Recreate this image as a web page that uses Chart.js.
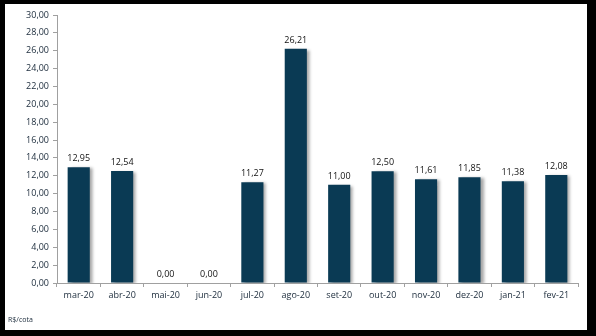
<!DOCTYPE html>
<html>
<head>
<meta charset="utf-8">
<script src="https://cdn.jsdelivr.net/npm/chart.js@4"></script>
<style>
html,body{margin:0;padding:0;background:#000;width:596px;height:336px;overflow:hidden;}
#box{position:absolute;left:5px;top:4px;width:582px;height:326px;background:#fff;}
#unit{position:absolute;left:3px;top:311px;font:7px "Open Sans",sans-serif;color:#1a2a3a;}
</style>
</head>
<body>
<div id="box">
<canvas id="chart" width="582" height="326"></canvas>
<div id="unit">R$/cota</div>
</div>
<script>
const months = ["mar-20","abr-20","mai-20","jun-20","jul-20","ago-20","set-20","out-20","nov-20","dez-20","jan-21","fev-21"];
const values = [12.95,12.54,0,0,11.27,26.21,11.00,12.50,11.61,11.85,11.38,12.08];
const yMin = 0, yMax = 30, yStep = 2;

const fmt = v => v.toFixed(2).replace(".", ",");

// sombra nas barras
const shadow = {
  id:"shadow",
  beforeDatasetDraw(chart){
    const c = chart.ctx;
    c.save();
    c.shadowColor = "rgba(0,0,0,0.35)";
    c.shadowOffsetX = 3;
    c.shadowOffsetY = 1;
    c.shadowBlur = 3;
  },
  afterDatasetDraw(chart){
    chart.ctx.restore();
  }
};

// rótulos de valor acima das barras
const labels = {
  id:"labels",
  afterDatasetsDraw(chart){
    const c = chart.ctx;
    const meta = chart.getDatasetMeta(0);
    c.save();
    c.font = "9px 'Open Sans', sans-serif";
    c.fillStyle = "#111";
    c.textAlign = "center";
    c.textBaseline = "bottom";
    meta.data.forEach((bar,i)=>{
      c.fillText(fmt(values[i]), bar.x, bar.y - 4);
    });
    c.restore();
  }
};

new Chart(document.getElementById("chart"),{
  type:"bar",
  data:{
    labels:months,
    datasets:[{
      data:values,
      backgroundColor:"#0a3a54",
      borderWidth:0,
      categoryPercentage:1,
      barPercentage:0.51
    }]
  },
  options:{
    responsive:false,
    animation:false,
    events:[],
    layout:{padding:{top:11,right:9,left:0,bottom:0}},
    plugins:{legend:{display:false},tooltip:{enabled:false}},
    scales:{
      x:{
        grid:{drawOnChartArea:false,offset:true,tickLength:4,color:"#a0a0a0"},
        border:{color:"#a0a0a0"},
        ticks:{font:{family:"Open Sans",size:9},color:"#1a2a3a",padding:3,maxRotation:0},
        afterFit(s){ s.height = 47; }
      },
      y:{
        min:yMin,max:yMax,
        grid:{drawOnChartArea:false,tickLength:4,color:"#a0a0a0"},
        border:{color:"#a0a0a0"},
        ticks:{stepSize:yStep,font:{family:"Open Sans",size:9},color:"#1a2a3a",padding:4,callback:v=>fmt(v)},
        afterFit(s){ s.width = 52; }
      }
    }
  },
  plugins:[shadow,labels]
});
</script>
</body>
</html>
